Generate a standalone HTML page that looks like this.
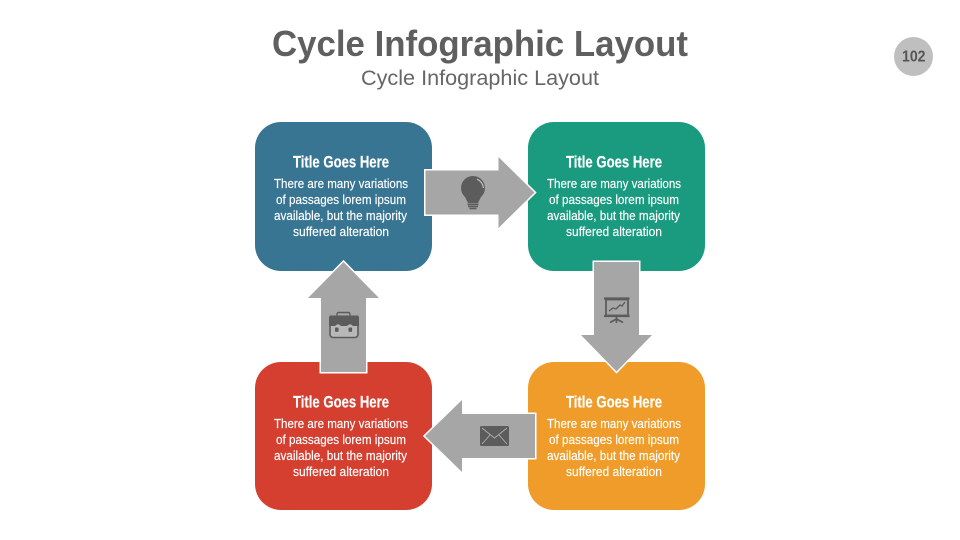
<!DOCTYPE html>
<html>
<head>
<meta charset="utf-8">
<style>
html,body{margin:0;padding:0;background:#fff;width:960px;height:540px;overflow:hidden}
svg{display:block}
text{font-family:"Liberation Sans",sans-serif}
.t{font-size:16.5px;font-weight:bold;fill:#fff;stroke:#fff;stroke-width:.2px}
.b{font-size:12.5px;fill:#fff;stroke:#fff;stroke-width:.15px}
</style>
</head>
<body>
<svg width="960" height="540" viewBox="0 0 960 540" xmlns="http://www.w3.org/2000/svg">
<rect width="960" height="540" fill="#fff"/>
<text x="272" y="56" font-size="36" font-weight="bold" fill="#5f5f5f" textLength="416" lengthAdjust="spacingAndGlyphs">Cycle Infographic Layout</text>
<text x="361" y="85" font-size="21" fill="#666" textLength="238" lengthAdjust="spacingAndGlyphs">Cycle Infographic Layout</text>
<circle cx="913.5" cy="56.5" r="19.5" fill="#bfbfbf"/>
<text x="902" y="61.5" font-size="15.5" font-weight="bold" fill="#555" textLength="23.5" lengthAdjust="spacingAndGlyphs">102</text>

<rect x="255" y="122" width="177" height="149" rx="26" fill="#387593"/>
<rect x="528" y="122" width="177" height="149" rx="26" fill="#1a9b80"/>
<rect x="528" y="362" width="177" height="148" rx="26" fill="#ef9c2a"/>
<rect x="255" y="362" width="177" height="148" rx="26" fill="#d43f30"/>

<g fill="#a6a6a6" stroke="#fff" stroke-width="3" paint-order="stroke">
<polygon points="425.5,170.5 498.5,170.5 498.5,157 534.5,192.5 498.5,228 498.5,214.5 425.5,214.5"/>
<polygon points="594,262 639,262 639,335 652,335 616.5,371.5 581,335 594,335"/>
<polygon points="321,372 321,298 308,298 343.5,262 379,298 366,298 366,372"/>
<polygon points="535,414 462,414 462,400 425,436 462,472 462,458 535,458"/>
</g>

<!-- bulb -->
<g>
<circle cx="473" cy="188" r="12" fill="#5c5c5c"/>
<path d="M464,195 L468,203 L478,203 L482,195Z" fill="#5c5c5c"/>
<path d="M477,179 C481,181 483,184 483.5,188" fill="none" stroke="#c4c4c4" stroke-width="1.2"/>
<rect x="467.5" y="203.5" width="11" height="1.6" fill="#5c5c5c"/>
<rect x="468" y="205.6" width="10" height="1.6" fill="#5c5c5c"/>
<rect x="469.5" y="207.7" width="7" height="1.6" fill="#5c5c5c"/>
</g>

<!-- presentation -->
<g fill="none" stroke="#5c5c5c">
<rect x="606" y="299.5" width="22" height="16" stroke-width="1.8"/>
<line x1="604" y1="298.5" x2="629.5" y2="298.5" stroke-width="2.2"/>
<line x1="604" y1="316" x2="629.5" y2="316" stroke-width="2.2"/>
<polyline points="609,311 613,308 616,309 620,305 622,306 625,302" stroke-width="1.4"/>
<path d="M610,322.5 L616.5,319 L623,322.5 M616.5,317 L616.5,323" stroke-width="1.7"/>
</g>

<!-- briefcase -->
<g>
<rect x="337" y="312.5" width="13" height="5" rx="1.5" fill="none" stroke="#5c5c5c" stroke-width="1.4"/>
<rect x="330" y="322" width="28" height="15.5" rx="3" fill="#b8b8b8" stroke="#5c5c5c" stroke-width="1.6"/>
<path d="M329,318 Q329,315.5 331,315.5 L357,315.5 Q359,315.5 359,318 L359,326 L353,326 Q350,322.5 347,326 L341,326 Q338,322.5 335,326 L329,326 Z" fill="#5c5c5c"/>
<rect x="335" y="327.5" width="3.6" height="4.4" rx="1" fill="#5c5c5c"/>
<rect x="348.5" y="327.5" width="3.6" height="4.4" rx="1" fill="#5c5c5c"/>
</g>

<!-- mail -->
<g>
<rect x="480" y="426" width="29" height="20" rx="1.5" fill="#5c5c5c"/>
<polyline points="482,428 494.5,438 507,428" fill="none" stroke="#b0b0b0" stroke-width=".9"/>
<path d="M482,444 L490,435 M507,444 L499,435" fill="none" stroke="#b0b0b0" stroke-width=".9"/>
</g>

<!-- text: top-left -->
<g>
<text class="t" x="293" y="167.5" textLength="96" lengthAdjust="spacingAndGlyphs">Title Goes Here</text>
<text class="b" x="274" y="188" textLength="134" lengthAdjust="spacingAndGlyphs">There are many variations</text>
<text class="b" x="276" y="204" textLength="130" lengthAdjust="spacingAndGlyphs">of passages lorem ipsum</text>
<text class="b" x="274" y="220" textLength="133" lengthAdjust="spacingAndGlyphs">available, but the majority</text>
<text class="b" x="293" y="236" textLength="96" lengthAdjust="spacingAndGlyphs">suffered alteration</text>
</g>
<g transform="translate(273,0)">
<text class="t" x="293" y="167.5" textLength="96" lengthAdjust="spacingAndGlyphs">Title Goes Here</text>
<text class="b" x="274" y="188" textLength="134" lengthAdjust="spacingAndGlyphs">There are many variations</text>
<text class="b" x="276" y="204" textLength="130" lengthAdjust="spacingAndGlyphs">of passages lorem ipsum</text>
<text class="b" x="274" y="220" textLength="133" lengthAdjust="spacingAndGlyphs">available, but the majority</text>
<text class="b" x="293" y="236" textLength="96" lengthAdjust="spacingAndGlyphs">suffered alteration</text>
</g>
<g transform="translate(273,240)">
<text class="t" x="293" y="167.5" textLength="96" lengthAdjust="spacingAndGlyphs">Title Goes Here</text>
<text class="b" x="274" y="188" textLength="134" lengthAdjust="spacingAndGlyphs">There are many variations</text>
<text class="b" x="276" y="204" textLength="130" lengthAdjust="spacingAndGlyphs">of passages lorem ipsum</text>
<text class="b" x="274" y="220" textLength="133" lengthAdjust="spacingAndGlyphs">available, but the majority</text>
<text class="b" x="293" y="236" textLength="96" lengthAdjust="spacingAndGlyphs">suffered alteration</text>
</g>
<g transform="translate(0,240)">
<text class="t" x="293" y="167.5" textLength="96" lengthAdjust="spacingAndGlyphs">Title Goes Here</text>
<text class="b" x="274" y="188" textLength="134" lengthAdjust="spacingAndGlyphs">There are many variations</text>
<text class="b" x="276" y="204" textLength="130" lengthAdjust="spacingAndGlyphs">of passages lorem ipsum</text>
<text class="b" x="274" y="220" textLength="133" lengthAdjust="spacingAndGlyphs">available, but the majority</text>
<text class="b" x="293" y="236" textLength="96" lengthAdjust="spacingAndGlyphs">suffered alteration</text>
</g>
</svg>
</body>
</html>
